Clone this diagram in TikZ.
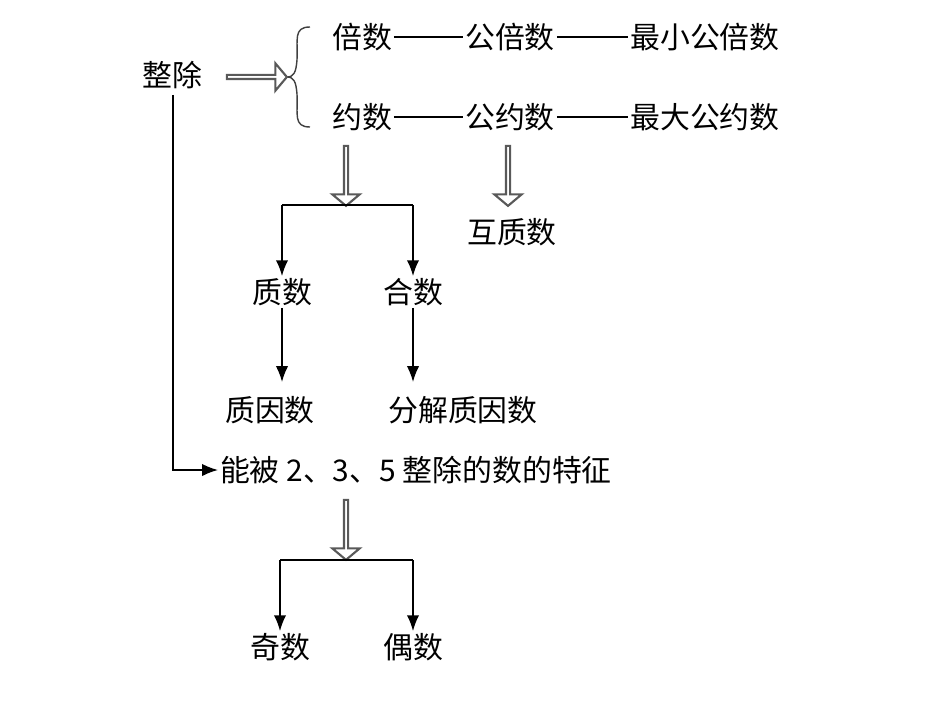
\documentclass[tikz,border=0pt]{standalone}
\usepackage{fontspec}
\setmainfont{Noto Sans CJK SC}
\usetikzlibrary{shapes.arrows, arrows.meta, positioning}

\begin{document}
\begin{tikzpicture}[
    x=0.02cm, y=-0.02cm,
    word/.style={inner sep=1pt, font=\fontsize{17pt}{20pt}\selectfont},
    hollow/.style={single arrow, draw=gray!70!black, fill=white, line width=1.2pt, inner sep=0pt, minimum height=1.2cm, minimum width=0.55cm, single arrow head extend=0.12cm, single arrow tip angle=100},
    arrow/.style={-{Latex[length=9pt,width=7pt]}, line width=0.9pt},
    link/.style={line width=0.8pt}
]
    \useasboundingbox (0,0) rectangle (950,713);

    % Left column
    \node[word] (zc) at (172,75) {整除};

    % Multiples and divisors
    \node[word] (bs) at (362,37) {倍数};
    \node[word] (gbs) at (510,37) {公倍数};
    \node[word] (zxgbs) at (705,37) {最小公倍数};
    \node[word] (ys) at (362,117) {约数};
    \node[word] (gys) at (510,117) {公约数};
    \node[word] (zdgys) at (705,117) {最大公约数};
    \draw[link] (bs.east) -- (gbs.west);
    \draw[link] (gbs.east) -- (zxgbs.west);
    \draw[link] (ys.east) -- (gys.west);
    \draw[link] (gys.east) -- (zdgys.west);

    % Brace
    \draw[line width=0.8pt, gray!50!black] (310,27) .. controls (293,27) and (298,40) .. (297,60)
        .. controls (296,72) and (294,77) .. (287,77)
        .. controls (294,77) and (296,82) .. (297,94)
        .. controls (298,114) and (293,127) .. (310,127);

    % Hollow arrows
    \node[hollow] (h1) at (256,77) {};
    \node[hollow, rotate=-90] (h2) at (346,175) {};
    \node[hollow, rotate=-90] (h3) at (508,175) {};
    \node[hollow, rotate=-90] (h4) at (346,529) {};

    \node[word] (hzs) at (512,232) {互质数};

    % Primes and composites
    \coordinate (t1) at (282,205);
    \coordinate (t2) at (413,205);
    \node[word] (zs) at (282,292) {质数};
    \node[word] (hs) at (413,292) {合数};
    \draw[link] (t1) -- (t2);
    \draw[arrow] (t1) -- (zs.north);
    \draw[arrow] (t2) -- (hs.north);

    \node[word] (zys) at (270,410) {质因数};
    \node[word] (fj) at (463,410) {分解质因数};
    \draw[arrow] (zs.south) -- (282,382);
    \draw[arrow] (hs.south) -- (413,382);

    % Divisibility features
    \node[word, anchor=west] (tz) at (218,470) {能被 2、3、5 整除的数的特征};
    \draw[arrow] (173,95) |- (tz.west);

    % Odd and even
    \coordinate (t3) at (280,560);
    \coordinate (t4) at (413,560);
    \node[word] (js) at (280,647) {奇数};
    \node[word] (os) at (413,647) {偶数};
    \draw[link] (t3) -- (t4);
    \draw[arrow] (t3) -- (js.north);
    \draw[arrow] (t4) -- (os.north);
\end{tikzpicture}
\end{document}
